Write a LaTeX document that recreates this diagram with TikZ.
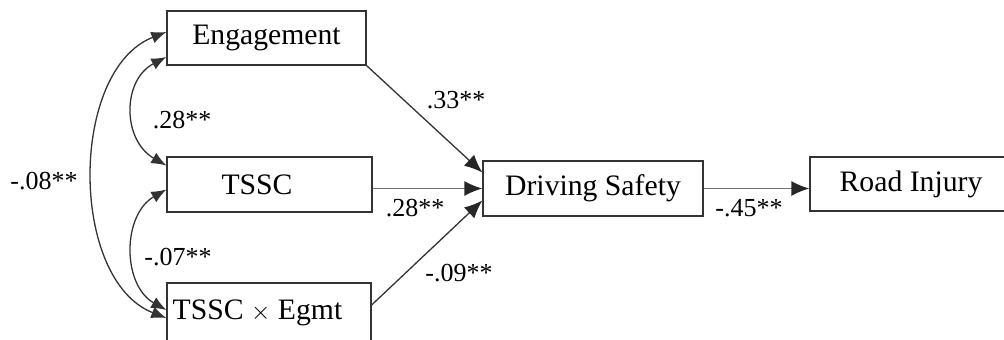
\documentclass[tikz,border=0pt]{standalone}
\usepackage{fontspec}
\setmainfont{Liberation Serif}
\usetikzlibrary{arrows.meta,calc}
\begin{document}
\begin{tikzpicture}[x=1pt,y=-1pt,
  box/.style={draw=black!80,line width=1.3pt,fill=white,inner sep=0pt,
    font=\fontsize{29.7}{32}\selectfont},
  lbl/.style={inner sep=0pt,font=\fontsize{26}{28}\selectfont},
  tip/.style={-{Latex[length=18pt,width=15pt,color=black!85]}},
  path/.style={draw=black!80,line width=1.3pt,tip},
  hpath/.style={draw=black!55,line width=1.6pt,tip},
  corr/.style={draw=black!80,line width=1.3pt,{Latex[length=15pt,width=12pt]}-{Latex[length=15pt,width=12pt]}}]
\useasboundingbox (0,0) rectangle (1004,340);
\begin{scope}
\clip (0,0) rectangle (1004,340);
\node[box,minimum width=199pt,minimum height=54pt] (eng) at (266.5,38) {Engagement};
\node[box,minimum width=205pt,minimum height=55pt] (tssc) at (269.5,184.5) {\hspace*{-25pt}TSSC};
\node[box,minimum width=204pt,minimum height=60pt] (tse) at (269,313) {\hspace*{-23pt}TSSC $\times$ Egmt};
\node[box,minimum width=220pt,minimum height=55pt] (ds) at (593,188.5) {Driving Safety};
\node[box,minimum width=300pt,minimum height=54pt] (ri) at (960,184) {\hspace*{-98pt}Road Injury};
% paths
\draw[path] (eng.south east) -- ($(ds.west)+(0,-16)$);
\draw[hpath] (tssc.east |- ds.west) -- (ds.west);
\draw[path] ($(tse.east)+(0,-8)$) -- ($(ds.west)+(0,12)$);
\draw[hpath] (ds.east) -- (ri.west |- ds.east);
% correlations
\draw[corr] ($(eng.west)+(0,19)$) .. controls (122,80) and (122,140) .. ($(tssc.west)+(0,-19)$);
\draw[corr] ($(tssc.west)+(0,5)$) .. controls (122,215) and (122,285) .. ($(tse.west)+(0,-3)$);
\draw[corr] ($(eng.west)+(0,-6)$) .. controls (69,70) and (69,280) .. ($(tse.west)+(0,5)$);
% labels
\node[lbl] (l28a) at (182,120) {.28**};
\node[lbl] (l08) at (44,181) {-.08**};
\node[lbl] (l07) at (178,257) {-.07**};
\node[lbl] (l33) at (456,100) {.33**};
\node[lbl] (l28b) at (415,208) {.28**};
\node[lbl] (l09) at (459,273) {-.09**};
\node[lbl] (l45) at (749,208) {-.45**};
\end{scope}
\end{tikzpicture}
\end{document}
